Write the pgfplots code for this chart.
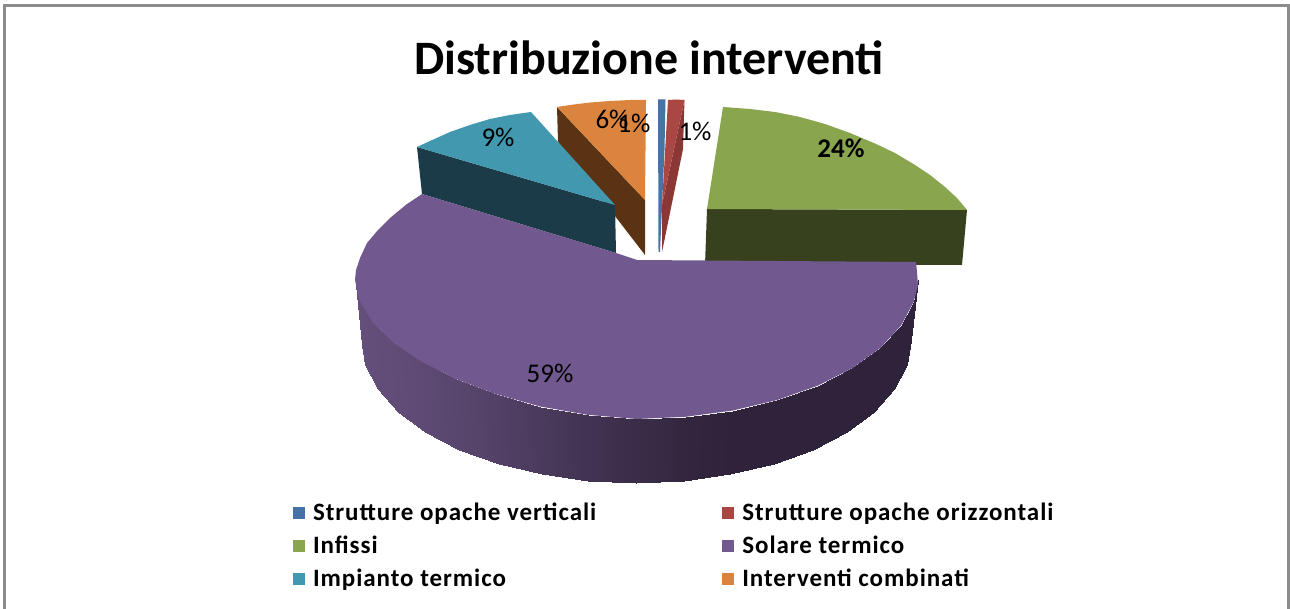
\documentclass[border=0pt]{standalone}
\usepackage{pgfplots}
\pgfplotsset{compat=1.18}
\usepackage{fontspec}
\setmainfont{Carlito}
\newfontfamily\lgdfont[LetterSpace=3.8]{Carlito}
\definecolor{cBlue}{HTML}{4572A7}
\definecolor{cRed}{HTML}{AA4643}
\definecolor{cRedD}{HTML}{8A3735}
\definecolor{cGreen}{HTML}{89A54E}
\definecolor{cGreenD}{HTML}{38411E}
\definecolor{cPurple}{HTML}{71588F}
\definecolor{cTeal}{HTML}{4198AF}
\definecolor{cTealD}{HTML}{1A3B47}
\definecolor{cOrange}{HTML}{DB843D}
\definecolor{cOrangeD}{HTML}{5A3315}
\definecolor{cFrame}{HTML}{8C8C8C}
\begin{document}
\begin{tikzpicture}
\path[use as bounding box] (0,0) rectangle (1290pt,609pt);
\begin{axis}[
  at={(0,0)}, anchor=south west,
  scale only axis, width=1290pt, height=609pt,
  xmin=0, xmax=1290, ymin=0, ymax=609, y dir=reverse,
  hide axis, clip=false,
  point meta min=0, point meta max=1,
  colormap={pur}{rgb255=(46,35,58) rgb255=(102,81,126)},
  legend columns=2,
  legend cell align=left,
  legend image code/.code={\fill[#1,draw=none] (0pt,-6pt) rectangle (12pt,6pt);},
  legend style={draw=none, fill=none, at={(axis cs:293,501)}, anchor=north west,
    inner sep=0pt, outer sep=0pt, font=\lgdfont\fontsize{25}{27}\selectfont\bfseries,
    /tikz/every odd column/.append style={column sep=6pt},
    /tikz/every even column/.append style={column sep=124pt},
    /tikz/row sep=10pt},
]
% frame
\addplot[forget plot, draw=cFrame, line width=2.6pt] coordinates {(4.5,609) (4.5,5.5) (1288.5,5.5) (1288.5,609)};
% orange
\addplot[forget plot, fill=cOrangeD, draw=none] coordinates {(557,107) (558,142) (645,255) (645,200)};
\addplot[forget plot, fill=cOrange, draw=none] coordinates {(557,107) (570,105) (590,102.5) (610,101) (630,100) (646,100) (645,200)};
% teal
\addplot[forget plot, fill=cTealD, draw=none] coordinates {(417,147) (422,194) (616,253) (615,205)};
\addplot[forget plot, fill=cTeal, draw=none] coordinates {(417,147) (430,141) (450,132) (470,125) (490,119) (510,115) (531,112) (615,205)};
% blue
\addplot[forget plot, fill=cBlue, draw=none] coordinates {(658,99.5) (665.5,99.5) (664.5,150) (660,252) (658.5,252)};
% red
\addplot[forget plot, fill=cRedD, draw=none] coordinates {(684.5,100) (683,149) (662,252) (662,205)};
\addplot[forget plot, fill=cRed, draw=none] coordinates {(668,100) (676,99.5) (684.5,100) (662,205)};
% green
\addplot[forget plot, fill=cGreenD, draw=none] coordinates {(707,209) (967,210) (962,265) (705,265)};
\addplot[forget plot, fill=cGreen, draw=none] coordinates {(723,107) (750,109) (775,112) (800,117) (825,124) (850,133) (875,143.5) (895,153) (915,165) (930,175) (945,187) (957,198) (967,210) (707,209)};
% purple side
\addplot[forget plot, patch, patch type=rectangle, shader=interp, point meta=explicit] coordinates {
(918,280)[0] (913.8,301.7)[0] (906.9,364.9)[0] (911,340)[0]
(913.8,301.7)[0] (901,325.6)[0] (894.4,388.9)[0] (906.9,364.9)[0]
(901,325.6)[0] (880.3,348)[0] (874.2,411.5)[0] (894.4,388.9)[0]
(880.3,348)[0] (852.1,368.3)[0] (846.7,432)[0] (874.2,411.5)[0]
(852.1,368.3)[0] (817.5,385.8)[0] (812.8,449.5)[0] (846.7,432)[0]
(817.5,385.8)[0] (777.3,400)[0] (773.5,463.8)[0] (812.8,449.5)[0]
(777.3,400)[0] (732.8,410.5)[0] (730,474.4)[0] (773.5,463.8)[0]
(732.8,410.5)[0] (685.5,416.8)[0.08] (683.9,480.9)[0.08] (730,474.4)[0]
(685.5,416.8)[0.08] (636.5,419)[0.22] (636,483)[0.22] (683.9,480.9)[0.08]
(636.5,419)[0.22] (587.5,414.8)[0.35] (588.1,480.9)[0.35] (636,483)[0.22]
(587.5,414.8)[0.35] (540.2,406.5)[0.5] (542,474.4)[0.5] (588.1,480.9)[0.35]
(540.2,406.5)[0.5] (495.8,394)[0.65] (498.5,463.8)[0.65] (542,474.4)[0.5]
(495.8,394)[0.65] (455.5,378.8)[0.76] (459.2,449.5)[0.76] (498.5,463.8)[0.65]
(455.5,378.8)[0.76] (420.9,361.3)[0.85] (425.3,432)[0.85] (459.2,449.5)[0.76]
(420.9,361.3)[0.85] (392.7,342)[0.9] (397.8,411.5)[0.9] (425.3,432)[0.85]
(392.7,342)[0.9] (372,321.6)[0.93] (377.6,388.9)[0.93] (397.8,411.5)[0.9]
(372,321.6)[0.93] (359.2,299.7)[0.96] (365.1,364.9)[0.96] (377.6,388.9)[0.93]
(359.2,299.7)[0.96] (355.5,285)[1] (362,345)[1] (365.1,364.9)[0.96]
};
% purple top
\addplot[forget plot, fill=cPurple, draw=none] coordinates {
(422,194) (407,204) (390,218) (378,230) (367,243) (360,258) (356,270) (355,280) (359.2,299.7) (372,321.6)
(392.7,342) (420.9,361.3) (455.5,378.8) (495.8,394) (540.2,406.5) (587.5,414.8) (636.5,419)
(685.5,416.8) (732.8,410.5) (777.3,400) (817.5,385.8) (852.1,368.3) (880.3,348) (901,325.6) (913.8,301.7) (918,285) (917,272) (916,262)
(637,260) (616,253)};
% labels
\node[font=\fontsize{27}{30}\selectfont] at (axis cs:612,119) {6\%};
\node[font=\fontsize{27}{30}\selectfont] at (axis cs:634,123) {1\%};
\node[font=\fontsize{27}{30}\selectfont] at (axis cs:695,131) {1\%};
\node[font=\fontsize{27}{30}\selectfont] at (axis cs:498,137) {9\%};
\node[font=\fontsize{27}{30}\selectfont\bfseries] at (axis cs:841,148) {24\%};
\node[font=\fontsize{27}{30}\selectfont] at (axis cs:550,373) {59\%};
\node[font=\fontsize{48}{52}\selectfont\bfseries] at (axis cs:649,58) {Distribuzione interventi};
% legend
\addlegendimage{cBlue}\addlegendentry{Strutture opache verticali}
\addlegendimage{cRed}\addlegendentry{Strutture opache orizzontali}
\addlegendimage{cGreen}\addlegendentry{Infissi}
\addlegendimage{cPurple}\addlegendentry{Solare termico}
\addlegendimage{cTeal}\addlegendentry{Impianto termico}
\addlegendimage{cOrange}\addlegendentry{Interventi combinati}
\end{axis}
\end{tikzpicture}
\end{document}
